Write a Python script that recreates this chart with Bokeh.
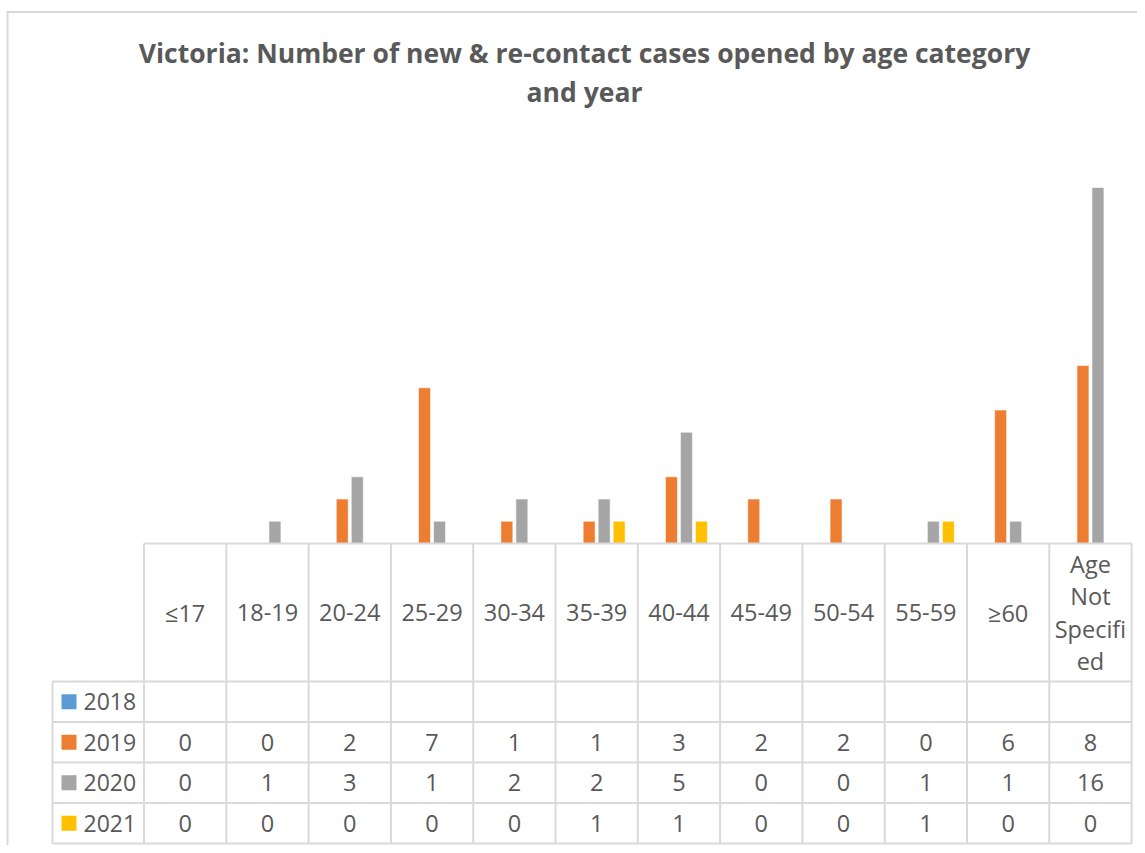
from bokeh.plotting import figure
from bokeh.models import Range1d
from bokeh.core.properties import value
from bokeh.embed import file_html
from bokeh.resources import INLINE

# ---------------- data ----------------
categories = ["≤17", "18-19", "20-24", "25-29", "30-34", "35-39", "40-44",
              "45-49", "50-54", "55-59", "≥60", "Age Not Specified"]
header_lines = [["≤17"], ["18-19"], ["20-24"], ["25-29"], ["30-34"], ["35-39"],
                ["40-44"], ["45-49"], ["50-54"], ["55-59"], ["≥60"],
                ["Age", "Not", "Specifi", "ed"]]
years = ["2018", "2019", "2020", "2021"]
v2018 = [None] * 12
v2019 = [0, 0, 2, 7, 1, 1, 3, 2, 2, 0, 6, 8]
v2020 = [0, 1, 3, 1, 2, 2, 5, 0, 0, 1, 1, 16]
v2021 = [0, 0, 0, 0, 0, 1, 1, 0, 0, 1, 0, 0]
series = [v2018, v2019, v2020, v2021]
colors = ["#5B9BD5", "#ED7D31", "#A5A5A5", "#FFC000"]
title_lines = ["Victoria: Number of new & re-contact cases opened by age category",
               "and year"]

# ---------------- layout ----------------
W, H = 1137, 845
COL0, COLW = 143.5, 82.3      # x of first column's left edge, column width (px)
BASE, UNIT = 543.0, 22.25     # y of zero line, pixels per case


def X(px):
    return (px - COL0) / COLW


def Y(py):
    return (BASE - py) / UNIT


TXT = "#595959"
GRID = "#D9D9D9"
FONT = value("Open Sans")
n = len(categories)

p = figure(width=W, height=H, output_backend="svg", toolbar_location=None,
           x_range=Range1d(X(0), X(W)), y_range=Range1d(Y(H), Y(0)),
           x_axis_location=None, y_axis_location=None, min_border=0,
           outline_line_color=None, background_fill_color="white",
           border_fill_color="white")
p.grid.visible = False

# ---------------- title ----------------
p.text(x=[X(584)] * 2, y=[Y(52), Y(91)], text=title_lines, text_font=FONT,
       text_font_style="bold", text_font_size="26.5px", text_color=TXT,
       text_align="center", text_baseline="middle")

# ---------------- bars ----------------
bw = 12 / COLW
step = 15 / COLW
offsets = [(k - 1.5) * step for k in range(4)]
for s, vals in enumerate(series):
    xs, tops = [], []
    for i, v in enumerate(vals):
        if v is not None:
            xs.append(i + 0.5 + offsets[s])
            tops.append(v)
    if xs:
        p.vbar(x=xs, top=tops, bottom=0, width=bw, fill_color=colors[s],
               line_color="white", line_width=0.6)

# ---------------- table grid ----------------
row_edges = [681, 721.5, 762, 802.5, 843]
bottom = Y(row_edges[-1])
left_tab = X(52)
# zero line / header top
p.segment(x0=[0], y0=[0], x1=[n], y1=[0], line_color=GRID, line_width=2)
# column boundaries
p.segment(x0=list(range(n + 1)), y0=[0] * (n + 1), x1=list(range(n + 1)),
          y1=[bottom] * (n + 1), line_color=GRID, line_width=2)
# row label column left edge
p.segment(x0=[left_tab], y0=[Y(row_edges[0])], x1=[left_tab], y1=[bottom],
          line_color=GRID, line_width=2)
# row lines
p.segment(x0=[left_tab] * len(row_edges), y0=[Y(r) for r in row_edges],
          x1=[n] * len(row_edges), y1=[Y(r) for r in row_edges],
          line_color=GRID, line_width=2)
# outer chart border (left / top)
p.segment(x0=[X(7), X(6)], y0=[Y(11.5), Y(11.5)], x1=[X(7), X(W)],
          y1=[Y(H), Y(11.5)], line_color=GRID, line_width=2)

# ---------------- header labels ----------------
hx, hy, ht = [], [], []
head_mid = (BASE + row_edges[0]) / 2
for i, lines in enumerate(header_lines):
    k = len(lines)
    for j, t in enumerate(lines):
        hx.append(i + 0.5)
        hy.append(Y(head_mid + (j - (k - 1) / 2) * 32.5))
        ht.append(t)
p.text(x=hx, y=hy, text=ht, text_font=FONT, text_font_size="23.5px",
       text_color=TXT, text_align="center", text_baseline="middle")

# ---------------- rows ----------------
row_mid = [Y((row_edges[r] + row_edges[r + 1]) / 2) for r in range(4)]
p.rect(x=[X(68.5)] * 4, y=row_mid, width=15, height=15, width_units="screen",
       height_units="screen", fill_color=colors, line_color=None)
p.text(x=[X(83)] * 4, y=row_mid, text=years, text_font=FONT,
       text_font_size="23px", text_color=TXT, text_align="left",
       text_baseline="middle")
cx, cy, ct = [], [], []
for r, vals in enumerate(series):
    for i, v in enumerate(vals):
        if v is not None:
            cx.append(i + 0.5)
            cy.append(row_mid[r])
            ct.append(str(v))
p.text(x=cx, y=cy, text=ct, text_font=FONT, text_font_size="23.5px",
       text_color=TXT, text_align="center", text_baseline="middle")

open("out.html", "w").write(file_html(p, INLINE))
